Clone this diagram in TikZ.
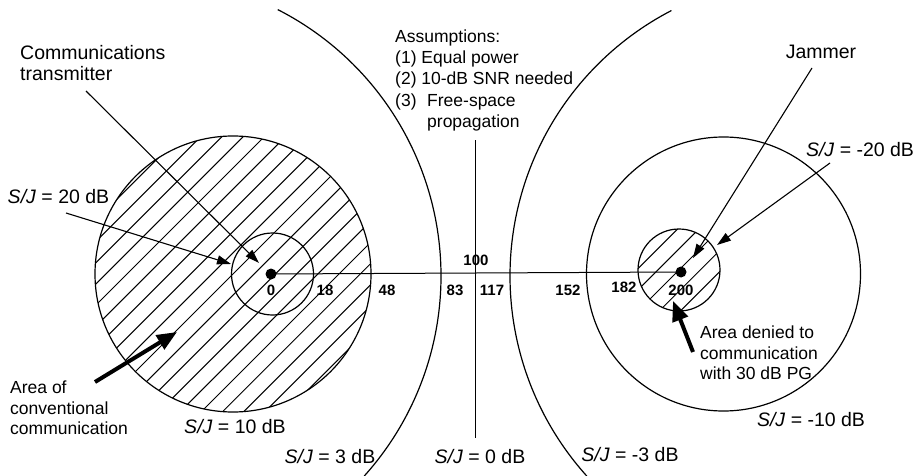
\documentclass[tikz,border=0pt]{standalone}
\usepackage{fontspec}
\setmainfont{Liberation Sans}
\usetikzlibrary{arrows.meta}
\begin{document}
\begin{tikzpicture}[x=1pt,y=-1pt,
  curve/.style={line width=1.2pt},
  thinline/.style={line width=1pt},
  hatchline/.style={line width=1pt},
  thinarrow/.style={line width=1.1pt,-{Triangle[length=14pt,width=9pt]}},
  thickarrow/.style={line width=4pt,-{Triangle[length=20pt,width=16pt]}},
  biglabel/.style={font=\fontsize{19.5}{23}\selectfont, inner sep=0pt},
  smalllabel/.style={font=\fontsize{17.5}{20.5}\selectfont, inner sep=0pt, align=left},
  numlabel/.style={font=\bfseries\fontsize{15}{18}\selectfont, inner sep=0pt},
  dot/.style={circle, fill=black, inner sep=0pt, minimum size=11pt}]
\useasboundingbox (0,0) rectangle (923,476);

% hatched areas
\begin{scope}
  \clip (233,274) circle[radius=138];
  \foreach \i in {-10,...,10}
    \draw[hatchline] (233+\i*21.2-160, 274+160) -- ++(320,-320);
\end{scope}
\begin{scope}
  \clip (679,270) circle[radius=41];
  \foreach \i in {-3,...,3}
    \draw[hatchline] (679+\i*21.2-60, 270+60) -- ++(120,-120);
\end{scope}

% circles
\draw[curve] (233,274) circle[radius=138];
\draw[curve] (272.5,274) circle[radius=41];
\draw[curve] (723.5,274) circle[radius=137];
\draw[curve] (679,270) circle[radius=41];

% large arcs
\draw[curve] (142,276) ++(-63:299) arc[start angle=-63, end angle=42, radius=299];
\draw[curve] (809,276) ++(138:299) arc[start angle=138, end angle=242.6, radius=299];

% vertical S/J = 0 dB line
\coordinate (vtop) at (475,140);
\coordinate (vbot) at (475,438);
\draw[thinline] (vtop) -- (vbot);

% transmitter and jammer
\node[dot] (tx) at (271,274) {};
\node[dot] (jm) at (681,272) {};
\draw[thinline] (tx.center) -- (jm.center);

% distance numbers
\node[numlabel] (n0) at (271,290) {0};
\node[numlabel] (n18) at (325,290) {18};
\node[numlabel] (n48) at (387,290) {48};
\node[numlabel] (n83) at (455,290) {83};
\node[numlabel] (n100) at (476,260) {100};
\node[numlabel] (n117) at (492,290) {117};
\node[numlabel] (n152) at (568,290) {152};
\node[numlabel] (n182) at (624,287) {182};
\node[numlabel] (n200) at (681,290) {200};

% assumptions
\node[smalllabel, anchor=west] (as0) at (395,38) {Assumptions:};
\node[smalllabel, anchor=west] (as1) at (395,59) {(1) Equal power};
\node[smalllabel, anchor=west] (as2) at (395,80) {(2) 10-dB SNR needed};
\node[smalllabel, anchor=west] (as3) at (395,102) {(3)};
\node[smalllabel, anchor=west] (as3b) at (427,102) {Free-space};
\node[smalllabel, anchor=west] (as4) at (427,123) {propagation};

% labels
\node[biglabel, anchor=west, align=left, font=\fontsize{19.5}{21}\selectfont] (ct) at (20,63) {Communications\\transmitter};
\node[biglabel] (jl) at (821,52) {Jammer};
\node[biglabel] (sj20) at (58.5,197) {\textit{S/J} = 20 dB};
\node[biglabel] (sj10) at (235,427) {\textit{S/J} = 10 dB};
\node[biglabel] (sj3) at (330,457) {\textit{S/J} = 3 dB};
\node[biglabel] (sj0) at (480,457) {\textit{S/J} = 0 dB};
\node[biglabel] (sjm3) at (630,455) {\textit{S/J} = -3 dB};
\node[biglabel] (sjm10) at (811,420) {\textit{S/J} = -10 dB};
\node[biglabel] (sjm20) at (860,150) {\textit{S/J} = -20 dB};
\node[smalllabel, anchor=west] (ac) at (10,408) {Area of\\conventional\\communication};
\node[smalllabel, anchor=west] (ad) at (700,353) {Area denied to\\communication\\with 30 dB PG};

% arrows
\coordinate (ctTail) at (86,91);   \coordinate (ctTip) at (259,263);
\coordinate (s20Tail) at (66,213); \coordinate (s20Tip) at (231,264);
\coordinate (jTail) at (812,68);   \coordinate (jTip) at (693,258);
\coordinate (m20Tail) at (830,163);\coordinate (m20Tip) at (717,245);
\coordinate (acTail) at (95,382);  \coordinate (acTip) at (177,332);
\coordinate (adTail) at (693,352); \coordinate (adTip) at (673,301);
\draw[thinarrow] (ctTail) -- (ctTip);
\draw[thinarrow] (s20Tail) -- (s20Tip);
\draw[thinarrow] (jTail) -- (jTip);
\draw[thinarrow] (m20Tail) -- (m20Tip);
\draw[thickarrow] (acTail) -- (acTip);
\draw[thickarrow] (adTail) -- (adTip);
\end{tikzpicture}
\end{document}
